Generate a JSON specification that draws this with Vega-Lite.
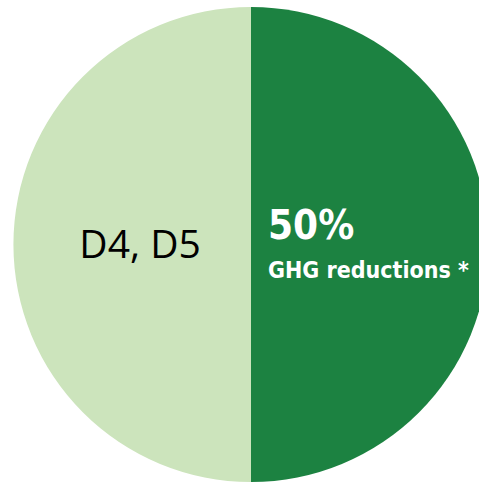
{
  "$schema": "https://vega.github.io/schema/vega-lite/v6.json",
  "width": 502,
  "height": 489,
  "padding": 0,
  "autosize": {"type": "none"},
  "background": "white",
  "config": {"view": {"stroke": null}},
  "layer": [
    {
      "data": {"values": [
        {"group": "GHG reductions", "share": 50, "order": 1},
        {"group": "D4, D5", "share": 50, "order": 2}
      ]},
      "mark": {"type": "arc", "outerRadius": 237.5, "stroke": null},
      "encoding": {
        "theta": {"field": "share", "type": "quantitative", "stack": true},
        "order": {"field": "order", "type": "quantitative"},
        "color": {"field": "group", "type": "nominal", "legend": null,
          "scale": {"domain": ["GHG reductions", "D4, D5"], "range": ["#1c8241", "#cce4bc"]}}
      }
    },
    {
      "data": {"values": [
        {"label": "D4, D5", "px": -0.442, "py": -0.055}
      ]},
      "mark": {"type": "text", "font": "Open Sans", "fontSize": 39, "color": "#000000", "align": "center", "baseline": "alphabetic"},
      "encoding": {
        "x": {"field": "px", "type": "quantitative", "scale": {"domain": [-1, 1]}, "axis": null},
        "y": {"field": "py", "type": "quantitative", "scale": {"domain": [-1, 1]}, "axis": null},
        "text": {"field": "label"}
      }
    },
    {
      "data": {"values": [
        {"label": "50%", "px": 0.068, "py": 0.0225}
      ]},
      "mark": {"type": "text", "font": "DejaVu Sans Condensed", "fontWeight": "bold", "fontSize": 40, "color": "#ffffff", "align": "left", "baseline": "alphabetic"},
      "encoding": {
        "x": {"field": "px", "type": "quantitative", "scale": {"domain": [-1, 1]}, "axis": null},
        "y": {"field": "py", "type": "quantitative", "scale": {"domain": [-1, 1]}, "axis": null},
        "text": {"field": "label"}
      }
    },
    {
      "data": {"values": [
        {"label": "GHG reductions *", "px": 0.068, "py": -0.137}
      ]},
      "mark": {"type": "text", "font": "DejaVu Sans Condensed", "fontWeight": "bold", "fontSize": 23, "color": "#ffffff", "align": "left", "baseline": "alphabetic"},
      "encoding": {
        "x": {"field": "px", "type": "quantitative", "scale": {"domain": [-1, 1]}, "axis": null},
        "y": {"field": "py", "type": "quantitative", "scale": {"domain": [-1, 1]}, "axis": null},
        "text": {"field": "label"}
      }
    }
  ]
}
